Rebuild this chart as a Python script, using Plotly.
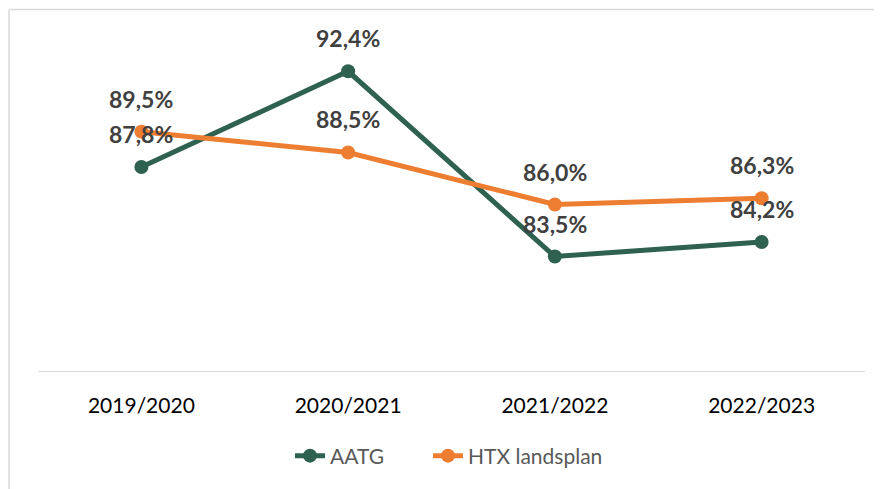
import plotly.graph_objects as go

categories = ["2019/2020", "2020/2021", "2021/2022", "2022/2023"]
aatg = [87.8, 92.4, 83.5, 84.2]
htx = [89.5, 88.5, 86.0, 86.3]
series_names = ["AATG", "HTX landsplan"]

GREEN = "#2F6150"
ORANGE = "#ED7D31"
FONT = "Lato"

fig = go.Figure()
for name, vals, col, leg in [(series_names[0], aatg, GREEN, "legend"),
                             (series_names[1], htx, ORANGE, "legend2")]:
    fig.add_trace(go.Scatter(
        x=categories, y=vals, name=name, mode="lines+markers",
        line=dict(color=col, width=5),
        marker=dict(color=col, size=14),
        hoverinfo="skip", legend=leg,
    ))

def fmt(v):
    return f"{v:.1f}%".replace(".", ",")

annotations = []
for vals in (aatg, htx):
    for c, v in zip(categories, vals):
        annotations.append(dict(
            x=c, y=v, xref="x", yref="y", text=fmt(v), showarrow=False,
            yshift=33, yanchor="middle", xanchor="center",
            font=dict(family=FONT, size=23, color="#404040", weight="bold"),
        ))

# page body has an 8px margin, so figure coords = screen coords - 8
OFF = 8
W, H = 882, 489
l, r, t, b = 38 - OFF, W - (865 - OFF), 38 - OFF, H - (371 - OFF)
pw, ph = W - l - r, H - t - b
bx = (9 - OFF - l) / pw
by = 1 + (t - (9.5 - OFF)) / ph

legend_common = dict(
    orientation="h", xanchor="left", y=-85 / ph, yanchor="middle",
    font=dict(family=FONT, size=21, color="#595959"),
    bgcolor="rgba(0,0,0,0)",
)

fig.update_layout(
    width=W, height=H,
    margin=dict(l=l, r=r, t=t, b=b, pad=0),
    paper_bgcolor="white", plot_bgcolor="white",
    font=dict(family=FONT),
    showlegend=True,
    legend=dict(x=(290 - 38) / 827, **legend_common),
    legend2=dict(x=(428 - 38) / 827, **legend_common),
    xaxis=dict(
        showgrid=False, zeroline=False, showline=True, linecolor="#D9D9D9", linewidth=1.3,
        ticks="outside", ticklen=16, tickcolor="rgba(0,0,0,0)",
        tickfont=dict(family=FONT, size=21, color="#000000"),
        range=[-0.5, 3.5],
    ),
    yaxis=dict(range=[78, 94], visible=False, showgrid=False, zeroline=False),
    annotations=annotations,
    shapes=[
        dict(type="line", xref="paper", yref="paper", x0=bx, x1=bx, y0=by, y1=-1,
             line=dict(color="#D9D9D9", width=1.5)),
        dict(type="line", xref="paper", yref="paper", x0=bx, x1=1.2, y0=by, y1=by,
             line=dict(color="#D9D9D9", width=1.5)),
    ],
)

fig.write_html("out.html")
